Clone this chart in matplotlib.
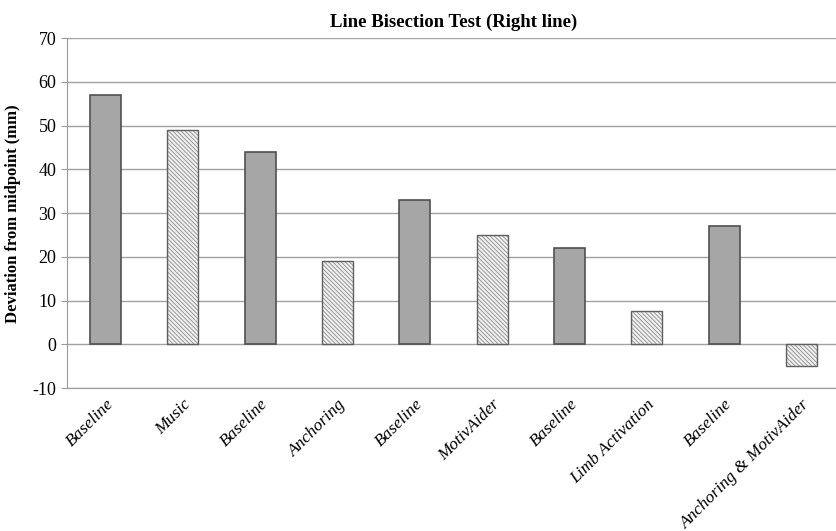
import matplotlib
matplotlib.use("Agg")
import matplotlib.pyplot as plt

labels = ["Baseline", "Music", "Baseline", "Anchoring", "Baseline", "MotivAider",
          "Baseline", "Limb Activation", "Baseline", "Anchoring & MotivAider"]
values = [57, 49, 44, 19, 33, 25, 22, 7.7, 27, -5]
is_baseline = [True, False, True, False, True, False, True, False, True, False]

plt.rcParams['font.family'] = ['Liberation Serif', 'DejaVu Serif']
plt.rcParams['hatch.linewidth'] = 0.6
plt.rcParams['axes.unicode_minus'] = False

fig = plt.figure(figsize=(8.36, 5.31), dpi=100)
ax = fig.add_axes([0.080, 0.269, 0.925, 0.659])

x = list(range(len(labels)))
for xi, v, b in zip(x, values, is_baseline):
    if b:
        ax.bar(xi, v, width=0.4, color="#a6a6a6", edgecolor="#505050", linewidth=1.2, zorder=3)
    else:
        # hatch fill, then outline on top
        ax.bar(xi, v, width=0.4, color="#f0f0f0", edgecolor="#8c8c8c", hatch="\\\\\\\\\\\\\\\\",
               linewidth=0, zorder=3)
        ax.bar(xi, v, width=0.4, fill=False, edgecolor="#606060", linewidth=1.0, zorder=4)

ax.set_ylim(-10, 70)
ax.set_yticks(range(-10, 71, 10))
ax.set_xlim(-0.5, 9.5)
ax.set_xticks(x)
ax.set_xticklabels(labels, rotation=45, ha="right", rotation_mode="anchor",
                   fontstyle="italic", fontsize=12.5)
ax.tick_params(axis="x", length=0, pad=6)
ax.tick_params(axis="y", length=4, color="#999999", labelsize=13)
ax.yaxis.grid(True, color="#a0a0a0", linewidth=1.0, zorder=0)
for s in ["top", "right"]:
    ax.spines[s].set_visible(False)
ax.spines["left"].set_color("#999999")
ax.spines["bottom"].set_color("#999999")

ax.set_title("Line Bisection Test (Right line)", fontsize=13.5, fontweight="bold", pad=8)
ax.set_ylabel("Deviation from midpoint (mm)", fontsize=12, fontweight="bold", labelpad=8)

fig.savefig("out.png", dpi=100)
